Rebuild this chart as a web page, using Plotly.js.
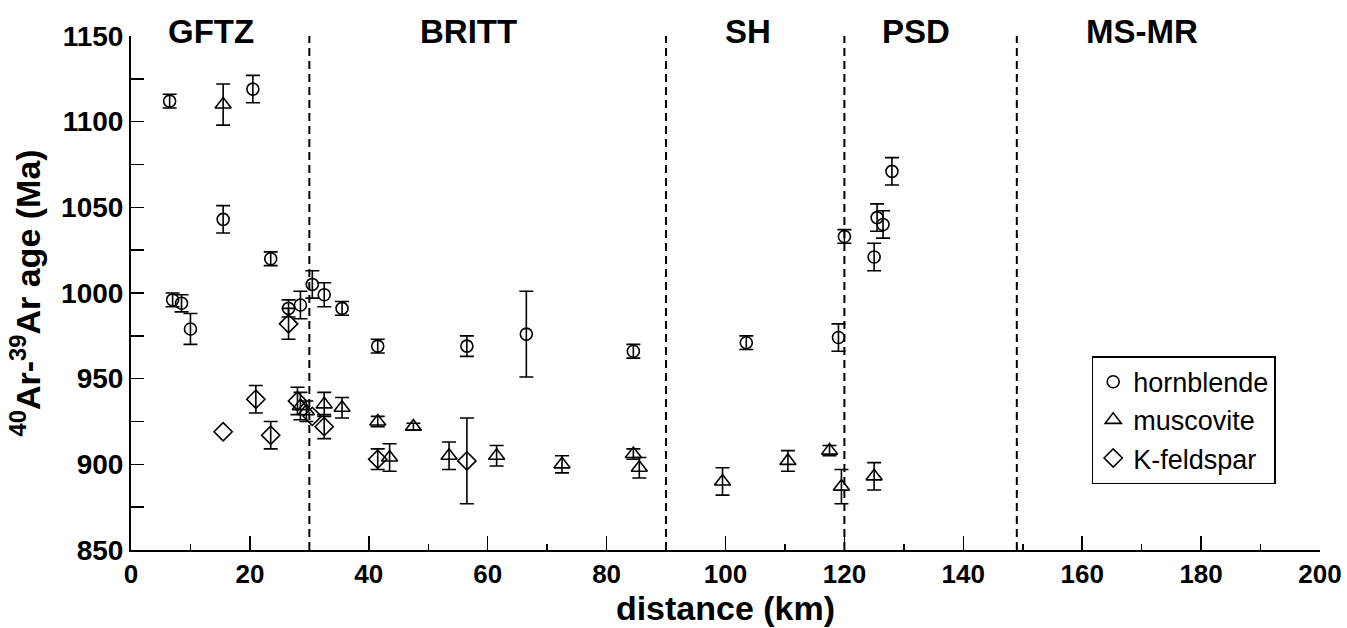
<!DOCTYPE html>
<html>
<head>
<meta charset="utf-8">
<script src="https://cdn.plot.ly/plotly-3.0.1.min.js"></script>
<style>html,body{margin:0;padding:0;background:#fff;}#chart{width:1347px;height:628px;}</style>
</head>
<body>
<div id="chart"></div>
<script>
// Hornblende (circles)
const hbDist = [6.5, 7, 8.5, 10, 15.5, 20.5, 23.5, 26.5, 28.5, 30.5, 32.5, 35.5, 41.5, 56.5, 66.5, 84.5, 103.5, 119, 120, 125, 125.5, 126.5, 128];
const hbAge  = [1112, 996, 994, 979, 1043, 1119, 1020, 991, 993, 1005, 999, 991, 969, 969, 976, 966, 971, 974, 1033, 1021, 1044, 1040, 1071];
const hbErr  = [4, 4, 5, 9, 8, 8, 4, 5, 8, 8, 7, 4, 4, 6, 25, 4, 4, 8, 4, 8, 8, 8, 8];

// Muscovite (triangles)
const muDist = [15.5, 28.5, 29.5, 32.5, 35.5, 41.5, 43.5, 47.5, 53.5, 61.5, 72.5, 84.5, 85.5, 99.5, 110.5, 117.5, 119.5, 125];
const muAge  = [1110, 934, 931, 935, 933, 925, 904, 922, 905, 905, 900, 906, 898, 890, 902, 908, 887, 893];
const muErr  = [12, 8, 6, 7, 6, 3, 8, 2, 8, 6, 5, 3, 6, 8, 6, 3, 10, 8];

// K-feldspar (diamonds); null = no error bar drawn
const kfDist = [15.5, 21, 23.5, 26.5, 28, 30.5, 32.5, 41.5, 56.5];
const kfAge  = [919, 938, 917, 982, 937, 928, 922, 903, 902];
const kfErr  = [null, 8, 8, 9, 8, null, 7, 6, 25];

// Region boundaries and labels
const boundaries = [30, 90, 120, 149];
const regionNames = ["GFTZ", "BRITT", "SH", "PSD", "MS-MR"];
const regionCenters = [13.5, 56.8, 103.7, 132, 170];

const xTicks = [0, 20, 40, 60, 80, 100, 120, 140, 160, 180, 200];
const yTicks = [850, 900, 950, 1000, 1050, 1100, 1150];

const FONT = "Liberation Sans, Arial, Helvetica, sans-serif";
const toErr = a => a.map(v => (v === null ? NaN : v));

function mkTrace(name, xs, ys, es, symbol, size) {
  return {
    type: "scatter", mode: "markers", name: name,
    x: xs, y: ys,
    marker: {symbol: symbol, size: size, color: "#000", line: {color: "#000", width: 1.6}},
    error_y: {type: "data", array: toErr(es), visible: true, color: "#000", thickness: 1.6, width: 7},
    cliponaxis: false
  };
}

const traces = [
  mkTrace("hornblende", hbDist, hbAge, hbErr, "circle-open", 12),
  mkTrace("muscovite", muDist, muAge, muErr, "triangle-up-open", 14),
  mkTrace("K-feldspar", kfDist, kfAge, kfErr, "diamond-open", 14)
];

const shapes = boundaries.map(b => ({
  type: "line", xref: "x", yref: "y", x0: b, x1: b, y0: 850, y1: 1150,
  line: {color: "#000", width: 2, dash: "8px,5px"}, layer: "below"
}));

const annotations = regionNames.map((n, i) => ({
  text: n, x: regionCenters[i], xref: "x", y: 1, yref: "paper",
  yanchor: "middle", yshift: 5, showarrow: false,
  font: {family: FONT, size: 33, color: "#000", weight: "bold"}
}));

const layout = {
  width: 1347, height: 628,
  margin: {l: 131, r: 27, t: 36, b: 78},
  paper_bgcolor: "#fff", plot_bgcolor: "#fff",
  showlegend: true,
  legend: {
    x: 0.808, y: 0.377, xanchor: "left", yanchor: "top",
    bgcolor: "#fff", bordercolor: "#000", borderwidth: 1.5,
    font: {family: FONT, size: 27, color: "#000"},
    tracegroupgap: 0, itemwidth: 30
  },
  xaxis: {
    range: [0, 200], tickvals: xTicks, ticktext: xTicks.map(String),
    ticks: "inside", ticklen: 14, tickwidth: 1.5, tickcolor: "#000",
    minor: {dtick: 10, tick0: 0, ticks: "inside", ticklen: 6, tickwidth: 1.5, tickcolor: "#000"},
    showline: true, linecolor: "#000", linewidth: 2,
    showgrid: false, zeroline: false,
    tickfont: {family: FONT, size: 26, color: "#000", weight: "bold"},
    title: {text: "distance (km)", font: {family: FONT, size: 34, color: "#000", weight: "bold"}, standoff: 6}
  },
  yaxis: {
    range: [850, 1150], tickvals: yTicks, ticktext: yTicks.map(String),
    ticks: "inside", ticklen: 13, tickwidth: 1.5, tickcolor: "#000",
    minor: {dtick: 25, tick0: 850, ticks: "inside", ticklen: 13, tickwidth: 1.5, tickcolor: "#000"},
    showline: true, linecolor: "#000", linewidth: 2,
    showgrid: false, zeroline: false,
    tickfont: {family: FONT, size: 28, color: "#000", weight: "bold"},
    title: {text: "<sup>40</sup>Ar-<sup>39</sup>Ar age (Ma)", font: {family: FONT, size: 34, color: "#000", weight: "bold"}, standoff: 10}
  },
  shapes: shapes,
  annotations: annotations
};

Plotly.newPlot("chart", traces, layout, {displayModeBar: false, staticPlot: true});
</script>
</body>
</html>
